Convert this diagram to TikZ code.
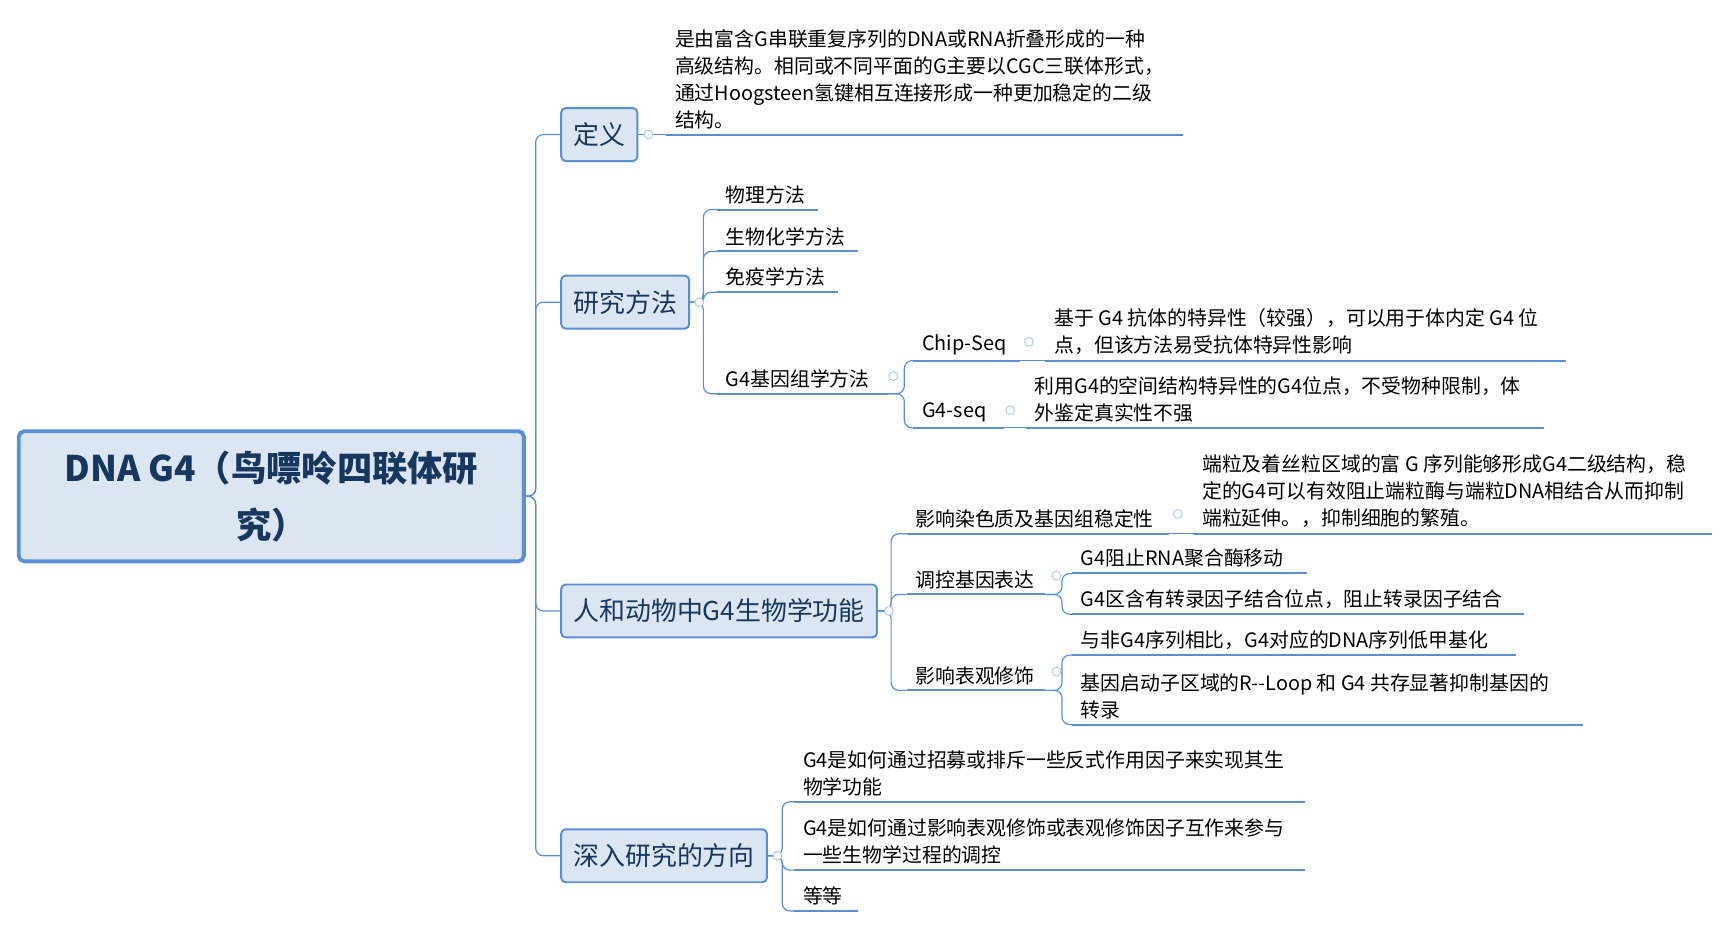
\documentclass[tikz,border=0pt]{standalone}
\usepackage{fontspec}
\setmainfont{Noto Sans CJK SC}
\usetikzlibrary{calc}
\definecolor{boxfill}{HTML}{DCE6F2}
\definecolor{boxline}{HTML}{5B8FD5}
\definecolor{navy}{HTML}{17375E}
\definecolor{knobc}{HTML}{A9C4E8}
\tikzset{
  root/.style={draw=boxline,line width=3.5pt,fill=boxfill,rounded corners=5pt,
    minimum width=458pt,minimum height=118pt,align=center,text=navy,
    font=\fontsize{32}{52}\selectfont\bfseries},
  branch/.style={draw=boxline,line width=1.8pt,fill=boxfill,rounded corners=4pt,
    minimum height=48pt,inner xsep=11pt,text=navy,font=\fontsize{23.5}{26}\selectfont},
  leaf/.style={anchor=south west,inner xsep=8pt,inner ysep=5pt,align=left,
    font=\fontsize{18}{24.5}\selectfont,
    append after command={(\tikzlastnode.south west) edge[uline] ($(\tikzlastnode.south west)+(#1,0)$)}},
  uline/.style={draw=boxline,line width=1.8pt},
  conn/.style={draw=boxline,line width=1.1pt,rounded corners=7pt},
  knob/.style={circle,draw=knobc,fill=white,line width=0.8pt,inner sep=0pt,minimum size=8pt},
}
\begin{document}
\begin{tikzpicture}[x=1pt,y=-1pt]
% root and main branches
\node[root] (dna) at (246,450) {DNA G4（鸟嘌呤四联体研\\究）};
\node[branch,anchor=west] (def) at (508,122) {定义};
\node[branch,anchor=west] (meth) at (508,274) {研究方法};
\node[branch,anchor=west] (func) at (508,554) {人和动物中G4生物学功能};
\node[branch,anchor=west] (dir) at (508,776) {深入研究的方向};
\foreach \b in {def,meth,func,dir}
  \draw[conn] (dna.east) -- ++(9,0) |- (\b.west);

% definition
\node[leaf=469] (defl) at (604,122) {是由富含G串联重复序列的DNA或RNA折叠形成的一种\\高级结构。相同或不同平面的G主要以CGC三联体形式，\\通过Hoogsteen氢键相互连接形成一种更加稳定的二级\\结构。};
\draw[conn] (def.east) -- (defl.south west);

% methods
\node[leaf=92] (phys) at (650,190) {物理方法};
\node[leaf=128] (bioc) at (650,228) {生物化学方法};
\node[leaf=110] (immu) at (650,265) {免疫学方法};
\node[leaf=155] (geno) at (650,357) {G4基因组学方法};
\foreach \c in {phys,bioc,immu,geno}
  \draw[conn] (meth.east) -- ++(12,0) |- (\c.south west);

\node[leaf=97] (chip) at (828,327) {Chip-Seq};
\node[leaf=82] (gseq) at (828,388) {G4-seq};
\coordinate (genoe) at (805,357);
\foreach \c in {chip,gseq}
  \draw[conn] (genoe) -- ++(15,0) |- (\c.south west);
\node[leaf=472] (chipl) at (948,327) {基于 G4 抗体的特异性（较强），可以用于体内定 G4 位\\点，但该方法易受抗体特异性影响};
\node[leaf=470] (gseql) at (930,388) {利用G4的空间结构特异性的G4位点，不受物种限制，体\\外鉴定真实性不强};
\draw[conn] (925,327) -- (chipl.south west);
\draw[conn] (910,388) -- (gseql.south west);

% functions
\node[leaf=238] (chro) at (822,484) {影响染色质及基因组稳定性};
\node[leaf=126] (expr) at (822,539) {调控基因表达};
\node[leaf=126] (epig) at (822,626) {影响表观修饰};
\foreach \c in {chro,expr,epig}
  \draw[conn] (func.east) -- ++(12,0) |- (\c.south west);
\node[leaf=470] (chrol) at (1082,484) {端粒及着丝粒区域的富 G 序列能够形成G4二级结构，稳\\定的G4可以有效阻止端粒酶与端粒DNA相结合从而抑制\\端粒延伸。，抑制细胞的繁殖。};
\draw[conn] (1060,484) -- (chrol.south west);
\node[leaf=213] (rnap) at (972,520) {G4阻止RNA聚合酶移动};
\node[leaf=410] (tfbs) at (972,557) {G4区含有转录因子结合位点，阻止转录因子结合};
\node[leaf=403] (meth1) at (972,594) {与非G4序列相比，G4对应的DNA序列低甲基化};
\node[leaf=463] (rloop) at (972,657) {基因启动子区域的R-{}-Loop 和 G4 共存显著抑制基因的\\转录};
\foreach \c in {rnap,tfbs}
  \draw[conn] (948,539) -- ++(15,0) |- (\c.south west);
\foreach \c in {meth1,rloop}
  \draw[conn] (948,626) -- ++(15,0) |- (\c.south west);

% directions
\node[leaf=463] (recr) at (720,727) {G4是如何通过招募或排斥一些反式作用因子来实现其生\\物学功能};
\node[leaf=463] (epif) at (720,789) {G4是如何通过影响表观修饰或表观修饰因子互作来参与\\一些生物学过程的调控};
\node[leaf=58] (etc) at (720,826) {等等};
\foreach \c in {recr,epif,etc}
  \draw[conn] (dir.east) -- ++(13,0) |- (\c.south west);

% collapse knobs
\foreach \p in {(588,122),(634,274),(810,341),(933,310),(916,372),(806,554),(1068,466),(958,522),(958,609),(705,776)}
  \node[knob] at \p {};
\pgfresetboundingbox
\useasboundingbox (0,0) rectangle (1566,840);
\end{tikzpicture}
\end{document}
